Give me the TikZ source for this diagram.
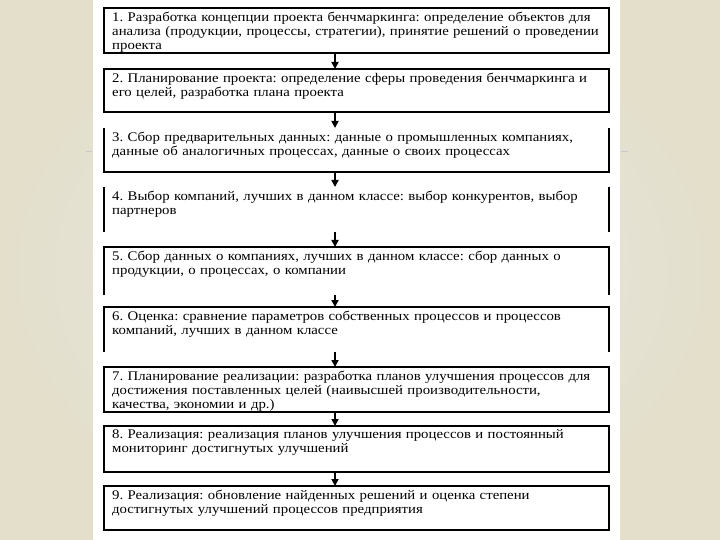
\documentclass[tikz,border=0pt]{standalone}
\usepackage{fontspec}
\setmainfont{Liberation Serif}[FakeStretch=1.12]
\frenchspacing
\usetikzlibrary{arrows.meta}
\definecolor{bgin}{HTML}{E9E9E9}
\definecolor{bgout}{HTML}{E3DFCB}
\definecolor{markgrey}{HTML}{C8C8C8}
\tikzset{
  x=1bp, y=-1bp,
  stepbox/.style={rectangle, draw=none, minimum width=505bp, inner sep=0pt, outer sep=0pt},
  border/.style={draw=black, line width=1.2bp},
  txt/.style={anchor=north west, inner sep=0pt, align=left, text width=500bp,
    font=\fontsize{13.2bp}{14.2bp}\selectfont},
  flow/.style={-{Triangle[length=7bp,width=7bp]}, line width=1.7bp},
  tick/.style={draw=markgrey, line width=1bp}
}
\begin{document}
\begin{tikzpicture}
\useasboundingbox (0,0) rectangle (720,540);
\shade[inner color=bgin, outer color=bgout] (0,0) rectangle (720,540);
\fill[white] (93,0) rectangle (620,540);
\draw[tick] (86,152) -- (92,152);
\draw[tick] (621,152) -- (628,152);

% boxes (left 104, right 609)
\node[stepbox, minimum height=45bp] (b1) at (356.5,30.5) {};
\node[stepbox, minimum height=43bp] (b2) at (356.5,90.5) {};
\node[stepbox, minimum height=44bp] (b3) at (356.5,150) {};
\node[stepbox, minimum height=45bp] (b4) at (356.5,209.5) {};
\node[stepbox, minimum height=48bp] (b5) at (356.5,271) {};
\node[stepbox, minimum height=45bp] (b6) at (356.5,329.5) {};
\node[stepbox, minimum height=45bp] (b7) at (356.5,389.5) {};
\node[stepbox, minimum height=46bp] (b8) at (356.5,449) {};
\node[stepbox, minimum height=44bp] (b9) at (356.5,508) {};

% borders
\draw[border] (b1.north west) rectangle (b1.south east);
\draw[border] (b2.north west) rectangle (b2.south east);
\draw[border] (b3.north west) -- (b3.south west) -- (b3.south east) -- (b3.north east);
\draw[border] (b4.north west) -- (b4.south west);
\draw[border] (b4.north east) -- (b4.south east);
\draw[border] (b5.south west) -- (b5.north west) -- (b5.north east) -- (b5.south east);
\draw[border] (b6.south west) -- (b6.north west) -- (b6.north east) -- (b6.south east);
\draw[border] (b7.north west) rectangle (b7.south east);
\draw[border] (b8.north west) rectangle (b8.south east);
\draw[border] (b9.north west) rectangle (b9.south east);

% texts
\node[txt] (t1) at ([xshift=8bp,yshift=-3.5bp]b1.north west) {1. Разработка концепции проекта бенчмаркинга: определение объектов для\\анализа (продукции, процессы, стратегии), принятие решений о проведении\\проекта};
\node[txt] (t2) at ([xshift=8bp,yshift=-3.5bp]b2.north west) {2. Планирование проекта: определение сферы проведения бенчмаркинга и\\его целей, разработка плана проекта};
\node[txt] (t3) at ([xshift=8bp,yshift=-3.5bp]b3.north west) {3. Сбор предварительных данных: данные о промышленных компаниях,\\данные об аналогичных процессах, данные о своих процессах};
\node[txt] (t4) at ([xshift=8bp,yshift=-3.5bp]b4.north west) {4. Выбор компаний, лучших в данном классе: выбор конкурентов, выбор\\партнеров};
\node[txt] (t5) at ([xshift=8bp,yshift=-3.5bp]b5.north west) {5. Сбор данных о компаниях, лучших в данном классе: сбор данных о\\продукции, о процессах, о компании};
\node[txt] (t6) at ([xshift=8bp,yshift=-3.5bp]b6.north west) {6. Оценка: сравнение параметров собственных процессов и процессов\\компаний, лучших в данном классе};
\node[txt] (t7) at ([xshift=8bp,yshift=-3.5bp]b7.north west) {7. Планирование реализации: разработка планов улучшения процессов для\\достижения поставленных целей (наивысшей производительности,\\качества, экономии и др.)};
\node[txt] (t8) at ([xshift=8bp,yshift=-3.5bp]b8.north west) {8. Реализация: реализация планов улучшения процессов и постоянный\\мониторинг достигнутых улучшений};
\node[txt] (t9) at ([xshift=8bp,yshift=-3.5bp]b9.north west) {9. Реализация: обновление найденных решений и оценка степени\\достигнутых улучшений процессов предприятия};

% arrows (slightly left of box centre, as in the reference)
\foreach \a/\b in {b1/b2,b2/b3,b3/b4,b4/b5,b5/b6,b6/b7,b7/b8,b8/b9}
  \draw[flow] ([xshift=-21.5bp]\a.south) -- ([xshift=-21.5bp]\b.north);
\end{tikzpicture}
\end{document}
